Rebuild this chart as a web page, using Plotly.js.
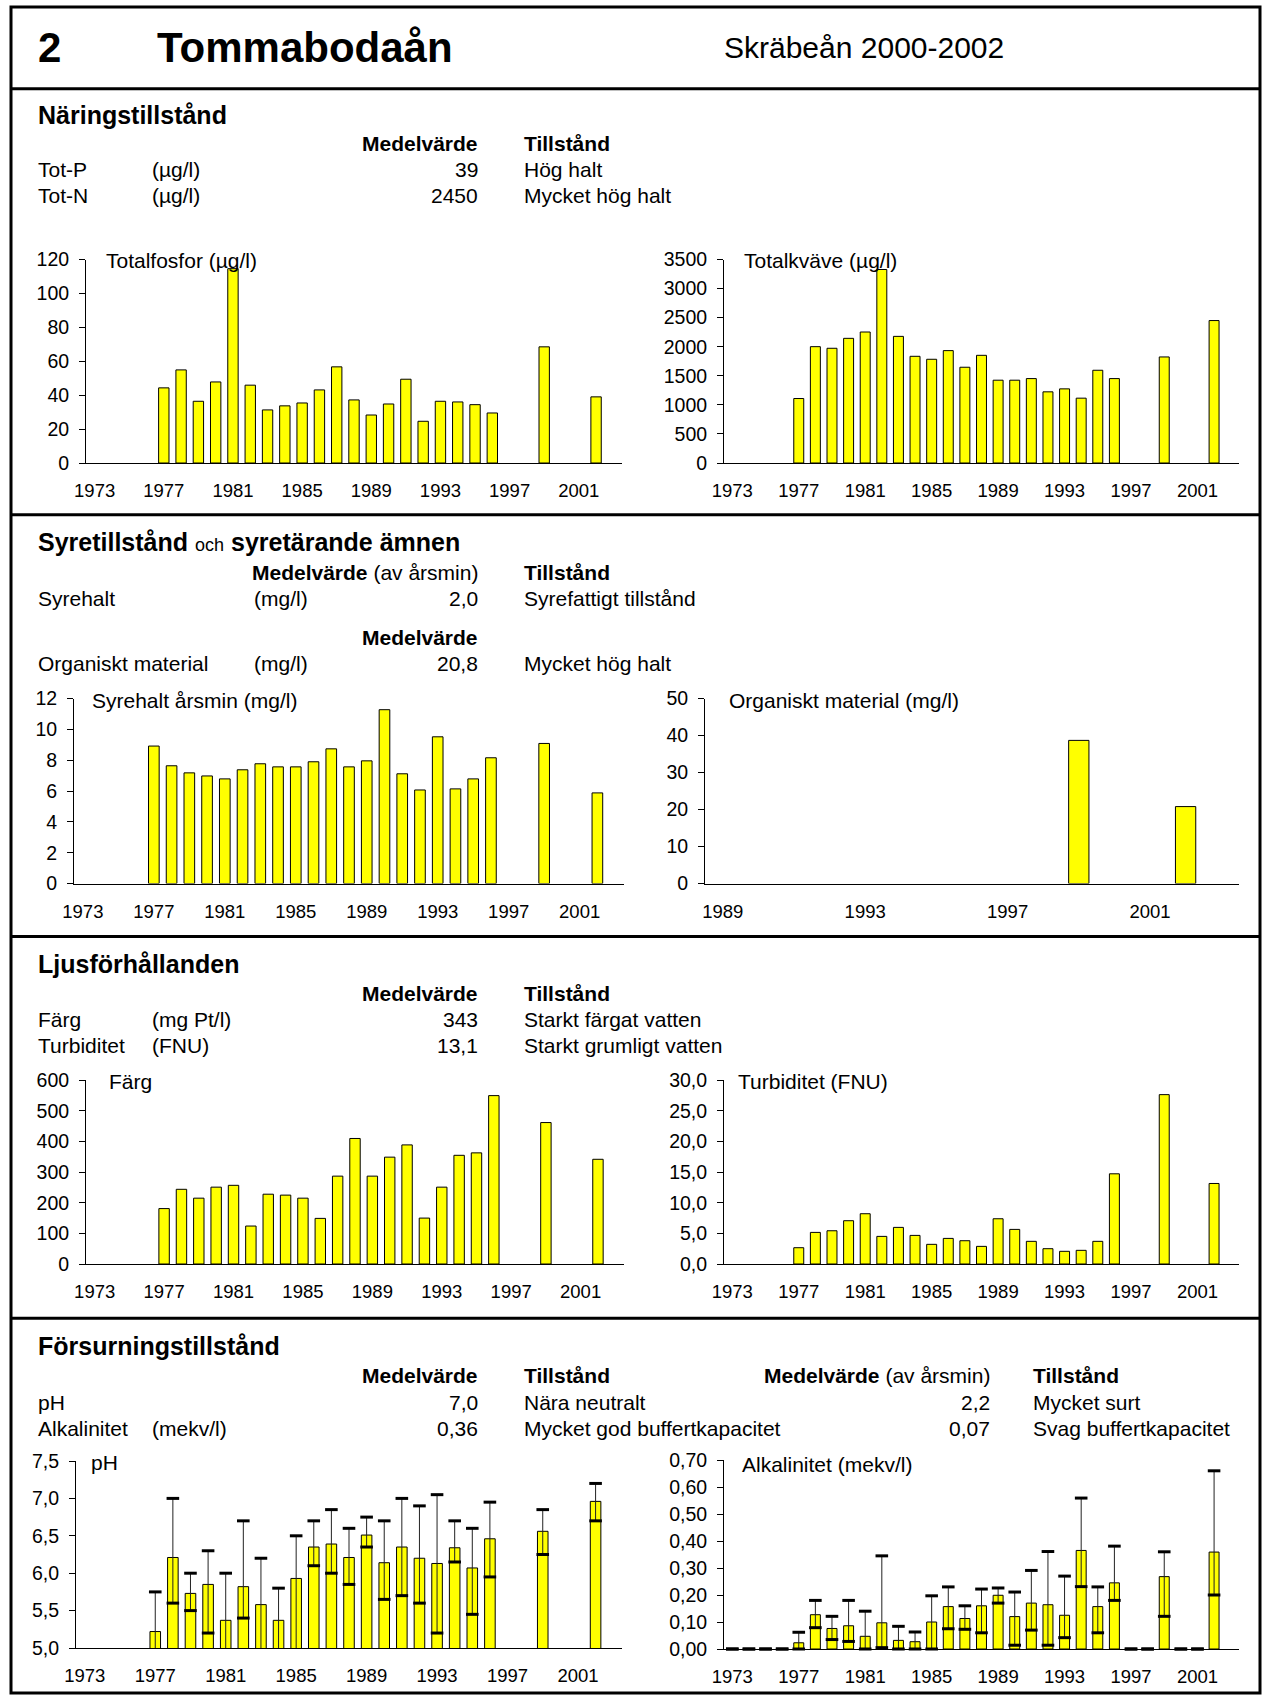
<!DOCTYPE html>
<html><head><meta charset="utf-8">
<script src="https://cdn.plot.ly/plotly-3.0.1.min.js"></script>
<style>body{margin:0;background:#fff}#chart{width:1262px;height:1695px}</style>
</head><body><div id="chart"></div>
<script>
const W = 1262, H = 1695;

// ---------- data ----------
const years = [1977,1978,1979,1980,1981,1982,1983,1984,1985,1986,1987,1988,1989,1990,1991,1992,1993,1994,1995,1996,1999,2002];
const totP  = [44.3,54.9,36.4,47.8,114.6,45.9,31.3,33.7,35.4,43.1,56.7,37.2,28.3,34.8,49.4,24.6,36.4,36.0,34.4,29.5,68.5,39];
const totN  = [1109,2001,1973,2144,2253,3328,2178,1835,1784,1933,1647,1852,1424,1424,1452,1224,1275,1115,1595,1452,1824,2450];
const syre  = [8.92,7.64,7.18,6.98,6.79,7.38,7.77,7.57,7.57,7.90,8.74,7.57,7.96,11.28,7.12,6.07,9.52,6.14,6.79,8.16,9.09,5.88];
const orgYears = [1999,2002];
const org   = [38.7,20.8];
const farg  = [181,244,215,251,257,124,228,225,215,149,287,410,287,349,389,150,251,355,363,550,462,342];
const turb  = [2.66,5.16,5.43,7.07,8.21,4.51,5.98,4.67,3.21,4.18,3.80,2.88,7.39,5.65,3.70,2.50,2.07,2.23,3.70,14.73,27.66,13.15];
const phVal = [5.22,6.21,5.73,5.85,5.37,5.82,5.58,5.37,5.93,6.35,6.39,6.21,6.51,6.14,6.35,6.20,6.13,6.34,6.07,6.46,6.56,6.96];
const phMin = [4.95,5.60,5.50,5.20,4.95,5.40,4.95,4.95,4.95,6.10,6.00,5.85,6.35,5.65,5.70,5.60,5.20,6.15,5.45,5.95,6.25,6.70];
const phMax = [5.75,7.00,6.00,6.30,6.00,6.70,6.20,5.80,6.50,6.70,6.85,6.60,6.75,6.70,7.00,6.90,7.05,6.70,6.60,6.95,6.85,7.20];
const alkYears = [1973,1974,1975,1976,1977,1978,1979,1980,1981,1982,1983,1984,1985,1986,1987,1988,1989,1990,1991,1992,1993,1994,1995,1996,1997,1998,1999,2000,2001,2002];
const alkVal = [0,0,0,0,0.023,0.127,0.076,0.086,0.047,0.097,0.032,0.027,0.100,0.157,0.113,0.160,0.199,0.120,0.170,0.164,0.125,0.365,0.157,0.245,0,0,0.268,0,0,0.359];
const alkMin = [0,0,0,0,0.000,0.079,0.035,0.028,0.000,0.005,0.000,0.000,0.000,0.075,0.073,0.060,0.170,0.014,0.070,0.014,0.042,0.231,0.060,0.180,0,0,0.121,0,0,0.200];
const alkMax = [0,0,0,0,0.062,0.180,0.121,0.180,0.140,0.345,0.084,0.063,0.197,0.230,0.160,0.222,0.226,0.211,0.291,0.361,0.270,0.559,0.230,0.381,0,0,0.360,0,0,0.660];
const xTicks = [1973,1977,1981,1985,1989,1993,1997,2001];
const orgTicks = [1989,1993,1997,2001];
const chartTitles = ['Totalfosfor (µg/l)','Totalkväve (µg/l)','Syrehalt årsmin (mg/l)','Organiskt material (mg/l)','Färg','Turbiditet (FNU)','pH','Alkalinitet (mekv/l)'];

// ---------- layout helpers ----------
const FONT = 'Liberation Sans, Arial, Helvetica, sans-serif';
const px = x => x / W, py = y => 1 - y / H;

// plot-area boxes (pixels) and axis settings
const boxes = [
  {x0:86,  x1:622,  top:259.5, bot:463,   yr:[0,120],  dt:20,  fmt:'',    xr:[1972.5,2003.5], tv:xTicks, tx:[104,260.6]},
  {x0:724, x1:1239, top:259.5, bot:463,   yr:[0,3500], dt:500, fmt:'',    xr:[1972.5,2003.5], tv:xTicks, tx:[742,260.6]},
  {x0:74,  x1:624,  top:698.6, bot:883.5, yr:[0,12],   dt:2,   fmt:'',    xr:[1972.5,2003.5], tv:xTicks, tx:[90,700.7]},
  {x0:705, x1:1239, top:698.6, bot:883.5, yr:[0,50],   dt:10,  fmt:'',    xr:[1988.5,2003.5], tv:orgTicks, tx:[727,700.7]},
  {x0:86,  x1:624,  top:1080.3,bot:1264,  yr:[0,600],  dt:100, fmt:'',    xr:[1972.5,2003.5], tv:xTicks, tx:[107,1081.4]},
  {x0:724, x1:1239, top:1080.3,bot:1264,  yr:[0,30],   dt:5,   fmt:'.1f', xr:[1972.5,2003.5], tv:xTicks, tx:[736,1081.4]},
  {x0:76,  x1:622,  top:1461,  bot:1648,  yr:[5,7.5],  dt:0.5, fmt:'.1f', xr:[1972.5,2003.5], tv:xTicks, tx:[89,1462]},
  {x0:724, x1:1239, top:1460,  bot:1649,  yr:[0,0.7],  dt:0.1, fmt:'.2f', xr:[1972.5,2003.5], tv:xTicks, tx:[740,1464]}
];

const layout = {
  width: W, height: H,
  margin: {l:0, r:0, t:0, b:0},
  paper_bgcolor: '#fff', plot_bgcolor: 'rgba(0,0,0,0)',
  showlegend: false,
  separators: ', ',
  font: {family: FONT, color: '#000'},
  annotations: [], shapes: []
};

boxes.forEach((b, i) => {
  const n = i === 0 ? '' : (i + 1);
  layout['xaxis' + n] = {
    domain: [px(b.x0), px(b.x1)], range: b.xr, anchor: 'y' + n,
    tickvals: b.tv, ticktext: b.tv.map(String),
    showline: true, linecolor: '#000', linewidth: 1,
    ticks: '', showgrid: false, zeroline: false,
    tickfont: {size: 18.5, family: FONT, color: '#000'}, ticklabelstandoff: 11, fixedrange: true
  };
  layout['yaxis' + n] = {
    domain: [py(b.bot), py(b.top)], range: b.yr, anchor: 'x' + n,
    tick0: b.yr[0], dtick: b.dt, tickformat: b.fmt,
    showline: true, linecolor: '#000', linewidth: 1,
    ticks: 'outside', ticklen: 6, tickcolor: '#000', tickwidth: 1,
    showgrid: false, zeroline: false,
    tickfont: {size: 19.5, family: FONT, color: '#000'}, ticklabelstandoff: 6, fixedrange: true
  };
  layout.annotations.push({
    text: chartTitles[i], x: px(b.tx[0]), y: py(b.tx[1]), xref: 'paper', yref: 'paper',
    xanchor: 'left', yanchor: 'middle', showarrow: false, font: {size: 21, family: FONT, color: '#000'}
  });
});

// ---------- traces ----------
const barStyle = {color: '#FFFF00', line: {color: '#000', width: 1}};
function bars(x, y, n, w) {
  return {type: 'bar', x: x, y: y, xaxis: 'x' + n, yaxis: 'y' + n, width: w || 0.6, marker: barStyle, hoverinfo: 'skip'};
}
const data = [
  bars(years, totP, ''),
  bars(years, totN, 2),
  bars(years, syre, 3),
  bars(orgYears, org, 4, 0.57),
  bars(years, farg, 5),
  bars(years, turb, 6)
];
function errBars(x, v, lo, hi, n, clip) {
  const b = bars(x, v, n);
  b.error_y = {type: 'data', symmetric: false,
    array: hi.map((h, i) => h - v[i]), arrayminus: lo.map((l, i) => v[i] - l),
    color: '#222', thickness: 1, width: 0};
  data.push(b);
  data.push({type: 'scatter', mode: 'markers', x: x.concat(x), y: lo.concat(hi),
    xaxis: 'x' + n, yaxis: 'y' + n, cliponaxis: clip, hoverinfo: 'skip',
    marker: {symbol: 'line-ew', size: 9, line: {color: '#000', width: 3}}});
}
errBars(years, phVal, phMin, phMax, 7, true);
errBars(alkYears, alkVal, alkMin, alkMax, 8, false);

// ---------- page text ----------
function T(text, x, y, size, anchor) {
  layout.annotations.push({text: text, x: px(x), y: py(y), xref: 'paper', yref: 'paper',
    xanchor: anchor || 'left', yanchor: 'middle', showarrow: false,
    font: {size: size || 21, family: FONT, color: '#000'}});
}
const L = 35.7, U1 = 150, U2 = 252, V = 480, S = 522, V2 = 991.6, S2 = 1030.6;

T('<b>2</b>', 36, 47.6, 42);
T('<b>Tommabodaån</b>', 155, 47.6, 42);
T('Skräbeån 2000-2002', 722, 47.6, 30);

T('<b>Näringstillstånd</b>', L, 114.6, 25);
T('<b>Medelvärde</b>', V, 143.8, 21, 'right');
T('<b>Tillstånd</b>', S, 143.8);
const nutRows = [['Tot-P','(µg/l)','39','Hög halt',169.8],['Tot-N','(µg/l)','2450','Mycket hög halt',195.7]];
nutRows.forEach(r => { T(r[0], L, r[4]); T(r[1], U1, r[4]); T(r[2], V, r[4], 21, 'right'); T(r[3], S, r[4]); });

T('<b>Syretillstånd</b> <span style="font-size:18px">och</span> <b>syretärande ämnen</b>', L, 541.8, 25);
T('<b>Medelvärde</b> (av årsmin)', V, 572, 21, 'right');
T('<b>Tillstånd</b>', S, 572);
T('Syrehalt', L, 598); T('(mg/l)', U2, 598); T('2,0', V, 598, 21, 'right'); T('Syrefattigt tillstånd', S, 598);
T('<b>Medelvärde</b>', V, 637, 21, 'right');
T('Organiskt material', L, 663); T('(mg/l)', U2, 663); T('20,8', V, 663, 21, 'right'); T('Mycket hög halt', S, 663);

T('<b>Ljusförhållanden</b>', L, 963.5, 25);
T('<b>Medelvärde</b>', V, 993.8, 21, 'right');
T('<b>Tillstånd</b>', S, 993.8);
const lightRows = [['Färg','(mg Pt/l)','343','Starkt färgat vatten',1019.8],['Turbiditet','(FNU)','13,1','Starkt grumligt vatten',1045.7]];
lightRows.forEach(r => { T(r[0], L, r[4]); T(r[1], U1, r[4]); T(r[2], V, r[4], 21, 'right'); T(r[3], S, r[4]); });

T('<b>Försurningstillstånd</b>', L, 1346.3, 25);
T('<b>Medelvärde</b>', V, 1375.5, 21, 'right');
T('<b>Tillstånd</b>', S, 1375.5);
T('<b>Medelvärde</b> (av årsmin)', V2, 1375.5, 21, 'right');
T('<b>Tillstånd</b>', S2, 1375.5);
const acidRows = [['pH','','7,0','Nära neutralt','2,2','Mycket surt',1402.6],
                  ['Alkalinitet','(mekv/l)','0,36','Mycket god buffertkapacitet','0,07','Svag buffertkapacitet',1428.5]];
acidRows.forEach(r => { T(r[0], L, r[6]); if (r[1]) T(r[1], U1, r[6]); T(r[2], V, r[6], 21, 'right'); T(r[3], S, r[6]);
  T(r[4], V2, r[6], 21, 'right'); T(r[5], S2, r[6]); });

// ---------- frame ----------
const lineSty = {color: '#000', width: 3};
layout.shapes.push({type: 'rect', xref: 'paper', yref: 'paper', x0: px(11), x1: px(1260), y0: py(7), y1: py(1693), line: lineSty});
[88.7, 514.8, 936.5, 1318.2].forEach(y => layout.shapes.push({type: 'line', xref: 'paper', yref: 'paper',
  x0: px(11), x1: px(1260), y0: py(y), y1: py(y), line: lineSty}));

Plotly.newPlot('chart', data, layout, {staticPlot: true, displayModeBar: false});
</script>
</body></html>
